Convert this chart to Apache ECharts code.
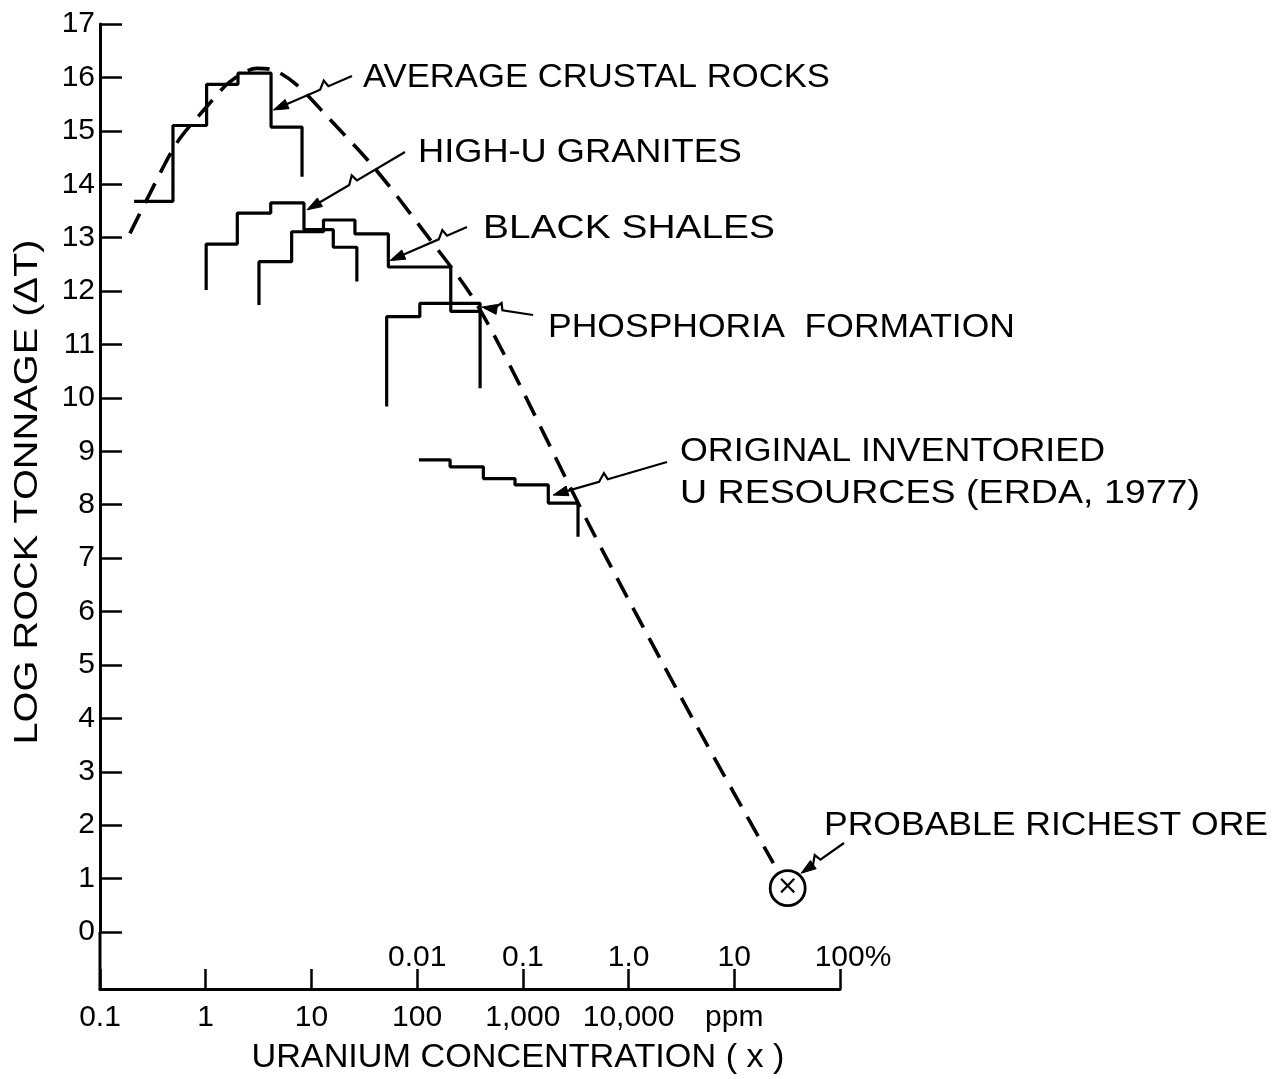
<!DOCTYPE html>
<html><head><meta charset="utf-8">
<script src="https://cdn.jsdelivr.net/npm/echarts@6/dist/echarts.min.js"></script>
<style>html,body{margin:0;padding:0;background:#fff}#c{width:1282px;height:1079px}</style>
</head><body><div id="c"></div>
<script>
// ---------------- data ----------------
const crustalEdges = [0.21, 0.49, 1.02, 2.02, 4.15, 8.15];
const crustalValues = [13.68, 15.1, 15.87, 16.08, 15.07];
const crustalEndDrop = 14.14;

const graniteEdges = [1.01, 1.99, 4.12, 8.5, 16.1, 26.9];
const graniteValues = [12.88, 13.46, 13.65, 13.15, 12.82];
const graniteStartDrop = 12.02;
const graniteEndDrop = 12.18;

const shaleEdges = [3.19, 6.5, 13, 25.8, 53.4, 208, 394];
const shaleValues = [12.55, 13.11, 13.33, 13.07, 12.45, 11.62];
const shaleStartDrop = 11.74;

const phosphoriaEdges = [51.5, 106, 394];
const phosphoriaValues = [11.52, 11.77];
const phosphoriaStartDrop = 9.84;
const phosphoriaEndDrop = 10.18;

const erdaEdges = [104, 205, 423, 843, 1740, 3325];
const erdaValues = [8.84, 8.71, 8.49, 8.37, 8.03];
const erdaEndDrop = 7.4;

const curveX = [0.192, 0.297, 0.532, 1.02, 1.70, 3.04, 4.36, 7.26, 15.0, 38.5, 106.5, 394, 4645, 41000, 234000];
const curveY = [13.08, 13.83, 14.77, 15.45, 15.92, 16.17, 16.14, 15.86, 15.21, 14.33, 13.21, 11.65, 7.47, 3.97, 1.29];

const richestOre = [320000, 0.82];

const ppmTickLabels = ['0.1', '1', '10', '100', '1,000', '10,000', 'ppm', ''];
const percentTickLabels = ['', '', '', '0.01', '0.1', '1.0', '10', '100%'];

const annotationTexts = [
  ['AVERAGE CRUSTAL ROCKS'],
  ['HIGH-U GRANITES'],
  ['BLACK SHALES'],
  ['PHOSPHORIA  FORMATION'],
  ['ORIGINAL INVENTORIED', 'U RESOURCES (ERDA, 1977)'],
  ['PROBABLE RICHEST ORE']
];
// arrow tips in data coordinates
const annotationTips = [
  [4.36, 15.39], [9.08, 13.52], [55.4, 12.57], [411, 11.70], [1932, 8.18], [428000, 1.10]
];
const yTitle = 'LOG ROCK TONNAGE (\u0394T)';
const xTitle = 'URANIUM CONCENTRATION ( x )';

// ---------------- layout (pixels) ----------------
const annotationLayout = [
  {x: 363, y: [78], w: [467], from: [352, 76], zig: 0.3},
  {x: 418, y: [153], w: [324], from: [405, 152], zig: 0.49},
  {x: 483, y: [229], w: [292], from: [467, 227], zig: 0.26},
  {x: 548, y: [328], w: [467], from: [533, 315], zig: 0.6},
  {x: 680, y: [452, 494], w: [425, 520], from: [667, 462], zig: 0.52},
  {x: 824, y: [826], w: [444], from: [844, 843], zig: 0.55}
];
const FONT = 'Liberation Sans';

function stepData(edges, values, startDrop, endDrop) {
  const pts = [];
  if (startDrop != null) pts.push([edges[0], startDrop]);
  for (let i = 0; i < values.length; i++) {
    pts.push([edges[i], values[i]]);
    pts.push([edges[i + 1], values[i]]);
  }
  if (endDrop != null) pts.push([edges[edges.length - 1], endDrop]);
  return pts;
}
function decadeIndex(v) { return Math.round(Math.log10(v)) + 1; }

const histStyle = {color: '#000', width: 3.2};
function histSeries(name, data) {
  return {name, type: 'line', data, symbol: 'none', lineStyle: histStyle, animation: false, z: 3};
}

const chart = echarts.init(document.getElementById('c'), null, {renderer: 'canvas'});
const option = {
  animation: false,
  backgroundColor: '#fff',
  textStyle: {fontFamily: FONT, color: '#000'},
  grid: {left: 100, right: 442, top: 24, bottom: 147, outerBoundsMode: 'none', containLabel: false},
  xAxis: [
    {
      type: 'log', logBase: 10, min: 0.1, max: 1e6, splitNumber: 7, position: 'bottom', offset: 57,
      axisLine: {show: true, onZero: false, lineStyle: {color: '#000', width: 3}},
      axisTick: {show: true, inside: true, length: 20, lineStyle: {color: '#000', width: 2.5}},
      splitLine: {show: false}, minorTick: {show: false},
      axisLabel: {show: true, fontSize: 30, color: '#000', fontFamily: FONT, margin: 14,
        showMinLabel: true, showMaxLabel: true,
        formatter: v => ppmTickLabels[decadeIndex(v)] || ''}
    },
    {
      type: 'log', logBase: 10, min: 0.1, max: 1e6, splitNumber: 7, position: 'bottom', offset: 57,
      axisLine: {show: false, onZero: false}, axisTick: {show: false}, splitLine: {show: false},
      axisLabel: {show: true, inside: true, fontSize: 30, color: '#000', fontFamily: FONT, margin: 16,
        showMinLabel: true, showMaxLabel: true,
        formatter: v => {
          const t = percentTickLabels[decadeIndex(v)] || '';
          return t.indexOf('%') >= 0 ? '{p|' + t + '}' : t;
        },
        rich: {p: {fontSize: 30, color: '#000', fontFamily: FONT, padding: [0, 0, 0, 26]}}
      }
    }
  ],
  yAxis: {
    type: 'value', min: 0, max: 17, interval: 1,
    axisLine: {show: true, onZero: false, lineStyle: {color: '#000', width: 3}},
    axisTick: {show: true, inside: true, length: 22, lineStyle: {color: '#000', width: 2.5}},
    splitLine: {show: false},
    axisLabel: {fontSize: 30, color: '#000', fontFamily: FONT, margin: 5}
  },
  series: [
    histSeries('Average crustal rocks', stepData(crustalEdges, crustalValues, null, crustalEndDrop)),
    histSeries('High-U granites', stepData(graniteEdges, graniteValues, graniteStartDrop, graniteEndDrop)),
    histSeries('Black shales', stepData(shaleEdges, shaleValues, shaleStartDrop, null)),
    histSeries('Phosphoria formation', stepData(phosphoriaEdges, phosphoriaValues, phosphoriaStartDrop, phosphoriaEndDrop)),
    histSeries('Original inventoried U resources', stepData(erdaEdges, erdaValues, null, erdaEndDrop)),
    {
      name: 'Tonnage-grade curve', type: 'line', smooth: 0.3, symbol: 'none',
      data: curveX.map((x, i) => [x, curveY[i]]),
      lineStyle: {color: '#000', width: 3.6, type: [22, 12], cap: 'butt'}, z: 2
    },
    {
      name: 'Probable richest ore', type: 'scatter', data: [richestOre], symbol: 'circle', symbolSize: 35,
      itemStyle: {color: '#fff', borderColor: '#000', borderWidth: 2.8, opacity: 1}, z: 4,
      label: {show: true, position: 'inside', formatter: '\u00d7', fontSize: 26, color: '#000', fontFamily: 'DejaVu Sans', offset: [0, -1]}
    }
  ]
};
chart.setOption(option);

// ---------------- annotations ----------------
const mctx = document.createElement('canvas').getContext('2d');
function measure(text, fs) { mctx.font = fs + 'px "' + FONT + '"'; return mctx.measureText(text).width; }
function fitText(text, fs, x, y, targetW, extra) {
  const w = measure(text, fs);
  return Object.assign({
    type: 'text', x, y, scaleX: targetW / w, z: 10,
    style: {text, fontSize: fs, fontFamily: FONT, fill: '#000', align: 'left', verticalAlign: 'middle',
      textAlign: 'left', textVerticalAlign: 'middle'}
  }, extra || {});
}

const toPx = p => chart.convertToPixel({seriesIndex: 0}, p);
const graphics = [];
annotationTexts.forEach((lines, i) => {
  const L = annotationLayout[i];
  lines.forEach((t, j) => graphics.push(fitText(t, 33, L.x, L.y[j], L.w[j])));
  const tip = toPx(annotationTips[i]);
  const s = L.from;
  const dx = tip[0] - s[0], dy = tip[1] - s[1];
  const len = Math.hypot(dx, dy);
  const d = [dx / len, dy / len];
  let n = [-d[1], d[0]];
  if (n[1] > 0) n = [-n[0], -n[1]];
  const B = [s[0] + d[0] * len * L.zig, s[1] + d[1] * len * L.zig];
  const C = [B[0] + d[0] * 2 + n[0] * 7, B[1] + d[1] * 2 + n[1] * 7];
  const D = [B[0] + d[0] * 9, B[1] + d[1] * 9];
  const ah = 15, aw = 5;
  const base = [tip[0] - d[0] * ah, tip[1] - d[1] * ah];
  graphics.push({type: 'polyline', z: 10, shape: {points: [s, B, C, D, base]},
    style: {stroke: '#000', lineWidth: 2.2, fill: null}});
  graphics.push({type: 'polygon', z: 10, shape: {points: [tip,
    [base[0] + n[0] * aw, base[1] + n[1] * aw], [base[0] - n[0] * aw, base[1] - n[1] * aw]]},
    style: {fill: '#000', stroke: '#000', lineWidth: 1}});
});

// extend the y axis line down to the offset x axis
const origin = toPx([0.1, 0]);
graphics.push({type: 'line', z: 5, shape: {x1: origin[0], y1: origin[1], x2: origin[0], y2: origin[1] + 58},
  style: {stroke: '#000', lineWidth: 3}});

// axis titles
graphics.push(fitText(yTitle, 34, 0, 0, 505, {x: 28, y: 492, rotation: Math.PI / 2,
  style: {text: yTitle, fontSize: 34, fontFamily: FONT, fill: '#000', align: 'center', verticalAlign: 'middle',
    textAlign: 'center', textVerticalAlign: 'middle'}}));
graphics.push(fitText(xTitle, 33, 0, 0, 533, {x: 518, y: 1058,
  style: {text: xTitle, fontSize: 33, fontFamily: FONT, fill: '#000', align: 'center', verticalAlign: 'middle',
    textAlign: 'center', textVerticalAlign: 'middle'}}));

chart.setOption({graphic: {elements: graphics}});
</script>
</body></html>
